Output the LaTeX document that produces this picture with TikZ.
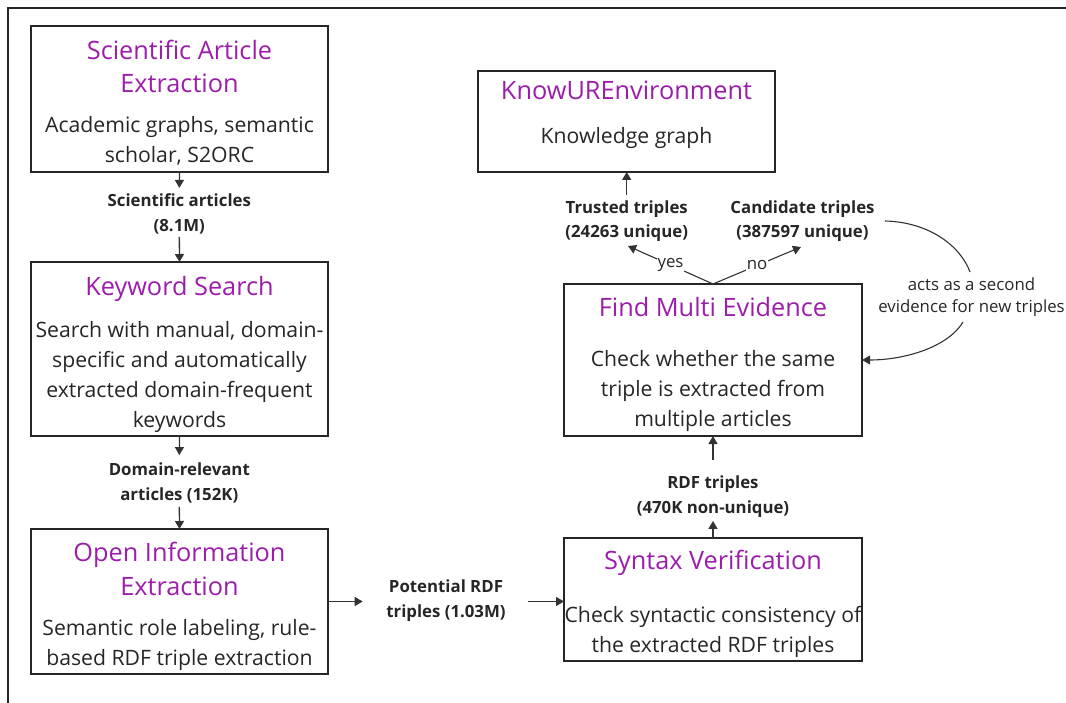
\documentclass[tikz,border=0pt]{standalone}
\usepackage{fontspec}
\setmainfont{Open Sans}
\usetikzlibrary{arrows.meta,calc}
\definecolor{ttl}{HTML}{9C1CAB}
\definecolor{txt}{HTML}{262626}
\definecolor{ln}{HTML}{333333}
\begin{document}
\begin{tikzpicture}[x=1pt,y=-1pt,
  box/.style={draw=txt, line width=2pt, inner sep=0pt, outer sep=0pt, anchor=north west},
  ttlstyle/.style={text=ttl, font=\fontsize{25.3}{33.7}\selectfont, align=center, anchor=base, inner sep=0pt},
  bodystyle/.style={text=txt, font=\fontsize{21.2}{30}\selectfont, align=center, anchor=base, inner sep=0pt},
  lab/.style={text=txt, font=\bfseries\fontsize{16.8}{24.8}\selectfont, align=center, anchor=base, inner sep=0pt},
  note/.style={text=txt, font=\fontsize{16.8}{22.3}\selectfont, align=center, inner sep=1pt},
  arr/.style={draw=ln, line width=1.3pt, -{Triangle[length=8pt,width=9pt]}},
  plain/.style={draw=ln, line width=1.1pt},
]
\useasboundingbox (0,0) rectangle (1066,703);
\draw[line width=2pt, draw=txt] (8,703) -- (8,8) -- (1066,8);

% boxes
\node[box, minimum width=297pt, minimum height=146pt] (b1) at (31,26) {};
\node[box, minimum width=297pt, minimum height=174pt] (b2) at (31,262) {};
\node[box, minimum width=297pt, minimum height=145pt] (b3) at (31,529) {};
\node[box, minimum width=298pt, minimum height=123pt] (b4) at (564,538) {};
\node[box, minimum width=298pt, minimum height=152pt] (b5) at (564,284) {};
\node[box, minimum width=297pt, minimum height=101pt] (b6) at (478,71) {};

% box texts (anchor base = baseline of the last line)
\node[ttlstyle] (t1) at (179.5,93) {Scientific Article\\Extraction};
\node[bodystyle] (d1) at (179.5,163) {Academic graphs, semantic\\scholar, S2ORC};
\node[ttlstyle] (t2) at (179.5,296) {Keyword Search};
\node[bodystyle] (d2) at (179.5,427) {Search with manual, domain-\\specific and automatically\\extracted domain-frequent\\keywords};
\node[ttlstyle] (t3) at (179.5,595) {Open Information\\Extraction};
\node[bodystyle] (d3) at (179.5,665) {Semantic role labeling, rule-\\based RDF triple extraction};
\node[ttlstyle] (t4) at (713,569) {Syntax Verification};
\node[bodystyle] (d4) at (713,652.5) {Check syntactic consistency of\\the extracted RDF triples};
\node[ttlstyle] (t5) at (713,316.7) {Find Multi Evidence};
\node[bodystyle] (d5) at (713,426.7) {Check whether the same\\triple is extracted from\\multiple articles};
\node[ttlstyle] (t6) at (626.5,100) {KnowUREnvironment};
\node[bodystyle] (d6) at (626.5,144) {Knowledge graph};

% connector labels
\node[lab] (l1) at (179.3,231.7) {Scientific articles\\(8.1M)};
\node[lab] (l2) at (179.3,500) {Domain-relevant\\articles (152K)};
\node[lab] (l3) at (446,617) {Potential RDF\\triples (1.03M)};
\node[lab] (l4) at (713,513.5) {RDF triples\\(470K non-unique)};
\node[lab] (l5) at (626.7,238) {Trusted triples\\(24263 unique)};
\node[lab] (l6) at (802.5,238) {Candidate triples\\(387597 unique)};
\node[note, anchor=base] (ann) at (971.5,313) {acts as a second\\evidence for new triples};

% flow arrows
\draw[arr, shorten >=5.9pt] (b1.south) -- (l1.north);
\draw[arr, shorten <=2.3pt] (l1.south) -- (b2.north);
\draw[arr, shorten >=7.2pt] (b2.south) -- (l2.north);
\draw[arr, shorten <=4pt] (l2.south) -- (b3.north);
\draw[arr, shorten >=23.5pt] (b3.east) -- (b3.east -| l3.west);
\draw[arr, shorten <=22pt] (b3.east -| l3.east) -- (b3.east -| b4.west);
\draw[arr, shorten >=3.2pt] (b4.north) -- (l4.south);
\draw[arr, shorten <=16pt] (l4.north) -- (b5.south);
\draw[arr, shorten <=5.5pt] (l5.north) -- (b6.south -| l5.north);

% yes / no
\coordinate (ty) at (628,246);
\coordinate (ny) at (801,247);
\draw[arr, line width=1.1pt] (b5.north) -- node[note, fill=white, inner sep=0.5pt] (yes) {yes} (ty);
\draw[arr, line width=1.1pt] (b5.north) -- node[note, fill=white, inner sep=0.5pt] (no) {no} (ny);

% feedback curve
\coordinate (c1) at (885,221);
\coordinate (c2) at (970,272);
\coordinate (c3) at (963,322);
\draw[plain] (c1) .. controls (928,222) and (960,245) .. (c2);
\draw[arr, line width=1.1pt] (c3) .. controls (948,347) and (905,360) .. (b5.east);
\end{tikzpicture}
\end{document}
